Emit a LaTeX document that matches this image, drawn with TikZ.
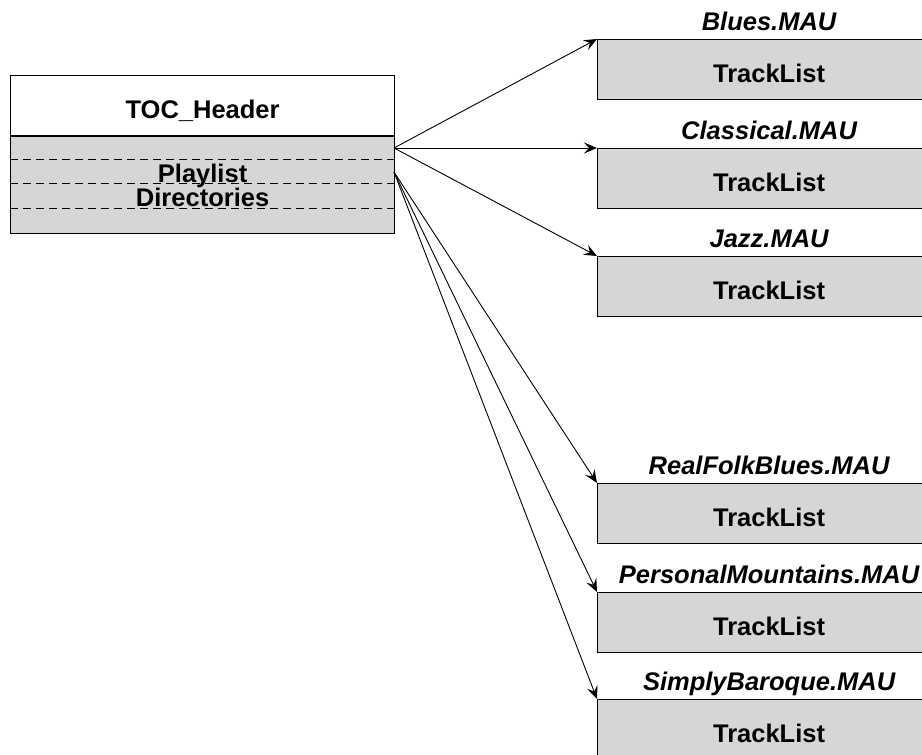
\documentclass[tikz,border=0pt]{standalone}
\usepackage{fontspec}
\setmainfont{Liberation Sans}
\usetikzlibrary{arrows.meta,positioning}
\definecolor{cellgrey}{RGB}{214,214,214}
\tikzset{
  sect/.style={draw, line width=1.2pt, minimum width=384pt, inner sep=0pt,
    anchor=north west, font=\fontsize{25.5}{24}\selectfont\bfseries},
  trk/.style={draw, fill=cellgrey, line width=1.2pt, minimum width=343pt,
    minimum height=60pt, anchor=north west, inner sep=0pt,
    text height=26pt, text depth=0pt, font=\fontsize{25.5}{24}\selectfont\bfseries},
  maulabel/.style={anchor=base, inner sep=0pt,
    font=\fontsize{25.5}{24}\selectfont\bfseries\itshape},
  link/.style={-{Stealth[length=13pt,width=11pt,inset=5pt]}, line width=0.9pt}
}
\begin{document}
\begin{tikzpicture}[x=1pt,y=-1pt]
  \useasboundingbox (0,0) rectangle (922,755);
  \clip (0,0) rectangle (922,755);
  % table of contents
  \node[sect, minimum height=60pt, text height=26pt, text depth=0pt] (toc) at (10,75) {TOC\_Header};
  \node[sect, fill=cellgrey, minimum height=97pt] (dirs) at (toc.south west) {};
  \foreach \y in {159,183,208}
    \draw[dash pattern=on 8pt off 5pt, line width=0.6pt] (10,\y) -- (394,\y);
  \node[align=center, inner sep=0pt, font=\fontsize{25.5}{24}\selectfont\bfseries] (dirstext) at (dirs.center) {Playlist\\Directories};
  % fan-out points
  \coordinate (fanA) at (394,148);
  \coordinate (fanB) at (394,172);
  % playlist files
  \foreach \nm/\ty/\lbl/\src in {blues/39/Blues/fanA, classical/148/Classical/fanA,
      jazz/256/Jazz/fanA, folk/483/RealFolkBlues/fanB,
      mount/592/PersonalMountains/fanB, baroque/699/SimplyBaroque/fanB} {
    \node[trk] (\nm) at (597,\ty) {TrackList};
    \node[maulabel] (\nm-name) at ([yshift=9pt]\nm.north) {\lbl.MAU};
    \draw[link] (\src) -- (\nm.north west);
  }
\end{tikzpicture}
\end{document}
